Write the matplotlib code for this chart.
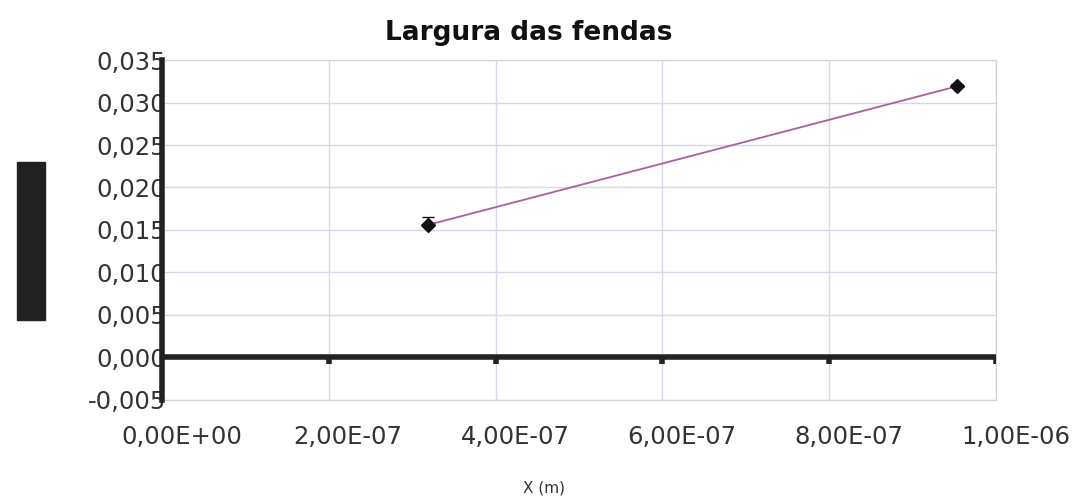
import numpy as np
import matplotlib.pyplot as plt
import matplotlib.transforms as mtransforms
from matplotlib.patches import Rectangle

# data
x_m = [3.19e-7, 9.53e-7]
largura = [0.0156, 0.0319]
erro_sup = [0.0009, 0.0003]
erro_inf = [0.0, 0.0]

x_ticks = [0, 2e-7, 4e-7, 6e-7, 8e-7, 1e-6]
x_tick_labels = ["0,00E+00", "2,00E-07", "4,00E-07", "6,00E-07", "8,00E-07", "1,00E-06"]
y_ticks = [-0.005, 0, 0.005, 0.01, 0.015, 0.02, 0.025, 0.03, 0.035]
y_tick_labels = ["-0,005", "0,000", "0,005", "0,010", "0,015", "0,020", "0,025", "0,030", "0,035"]


def main():
    fig = plt.figure(figsize=(10.82, 5.03), dpi=100)
    ax = fig.add_axes([0.1497, 0.2048, 0.7708, 0.6759])

    ax.set_xlim(0, 1e-6)
    ax.set_ylim(-0.005, 0.035)
    ax.set_xticks(x_ticks)
    ax.set_xticklabels(x_tick_labels, fontsize=17.5, color="#333333")
    ax.set_yticks(y_ticks)
    ax.set_yticklabels(y_tick_labels, fontsize=17.5, color="#333333")
    ax.tick_params(axis="x", length=0, pad=18)
    ax.tick_params(axis="y", length=0, pad=-3)

    # x labels sit a little right of their ticks in the original
    shift = mtransforms.ScaledTranslation(14 / 72, 0, fig.dpi_scale_trans)
    for lbl in ax.get_xticklabels():
        lbl.set_transform(lbl.get_transform() + shift)

    ax.grid(True, color="#d4d8e8", linewidth=1)
    ax.set_axisbelow(True)
    for side in ["top", "right", "bottom"]:
        ax.spines[side].set_color("#d0d0d0")
    ax.spines["left"].set_linewidth(4)
    ax.spines["left"].set_color("#222222")
    ax.spines["left"].set_zorder(6)

    # zero line with its tick marks
    ax.axhline(0, color="#222222", linewidth=4, zorder=3)
    ax.vlines(x_ticks[1:], -0.0008, 0, color="#222222", linewidth=4, zorder=3)

    ax.plot(x_m, largura, color="#a8609f", linewidth=1.3, zorder=4)
    ax.errorbar(x_m, largura, yerr=[erro_inf, erro_sup], fmt="D", color="#111111",
                markersize=7, capsize=4, elinewidth=1, zorder=5)

    fig.text(0.489, 0.935, "Largura das fendas", fontsize=19, fontweight="bold",
             ha="center", va="center", color="#111111")
    fig.text(0.503, 0.02, "X (m)", fontsize=11, ha="center", color="#333333")

    # hidden y-axis label block
    fig.patches.append(Rectangle((0.016, 0.364), 0.026, 0.314,
                                 transform=fig.transFigure, color="#222222"))

    fig.savefig("out.png", dpi=100)


if __name__ == "__main__":
    main()
